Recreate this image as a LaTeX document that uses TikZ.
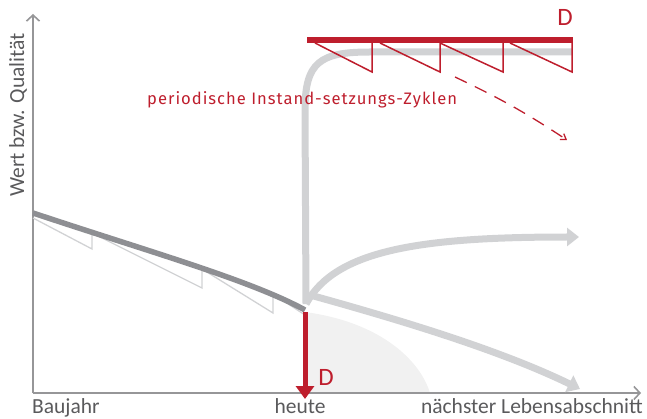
\documentclass[tikz,border=0pt]{standalone}
\usepackage{fontspec}
\setmainfont{Carlito}
\newfontfamily\cyclefont[LetterSpace=6]{Fira Sans}
\usetikzlibrary{arrows.meta}

\definecolor{dbred}{RGB}{190,30,45}
\definecolor{axisgray}{RGB}{150,150,152}
\definecolor{labelgray}{RGB}{90,90,92}
\definecolor{wornline}{RGB}{142,143,147}
\definecolor{pathgray}{RGB}{209,210,212}
\definecolor{shadegray}{RGB}{241,241,241}

\begin{document}
\begin{tikzpicture}[x=1pt, y=-1pt,
  axis/.style={draw=axisgray, line width=1.6pt, -{Straight Barb[length=6pt, width=13pt, line width=1.6pt]}},
  axislabel/.style={text=labelgray, font=\fontsize{21.5}{21.5}\selectfont, inner sep=0pt},
  worn/.style={draw=wornline, line width=5.5pt},
  teeth/.style={draw=pathgray, line width=1.3pt, line join=miter},
  future/.style={draw=pathgray, line width=7pt, -{Triangle[length=12pt, width=18pt]}},
  redteeth/.style={draw=dbred, line width=1.5pt, line join=miter},
  dmark/.style={text=dbred, font=\fontsize{25}{25}\selectfont, inner sep=0pt},
]
\useasboundingbox (0,0) rectangle (647,419);
% ---- shaded area under today ----
\fill[shadegray] (305,312) .. controls (380,322) and (420,360) .. (430,393) -- (305,393) -- cycle;
% ---- axes ----
\coordinate (origin) at (33,393);
\coordinate (ytip) at (33,14);
\coordinate (xtip) at (641,393);
\draw[axis] (origin) -- (ytip);
\draw[axis] (origin) -- (xtip);
\node[axislabel, rotate=90] (ylab) at (18,115) {Wert bzw. Qualität};
\node[axislabel, anchor=base west] (baujahr) at (32,413.5) {Baujahr};
\node[axislabel, anchor=base] (heute) at (300,413.5) {heute};
\node[axislabel, anchor=base east] (next) at (643,413.5) {nächster Lebensabschnitt};
% ---- past: wear and small repairs ----
\coordinate (built) at (33,213);
\coordinate (now) at (305,310);
\draw[teeth] (33,218) -- (92,249) -- (92,233) -- (202,288) -- (202,269)
  -- (273,313) -- (273,294) -- (305,315);
\draw[worn] (built) .. controls (150,252) and (250,280) .. (now);
% ---- future paths ----
\coordinate (fork) at (306,304);
\draw[pathgray, line width=7pt] (fork) -- (305,110) .. controls (305,62) and (320,52) .. (370,52) -- (572,52);
\draw[future] (fork) .. controls (335,250) and (420,237) .. (579,237);
\draw[future] (310,295) .. controls (400,320) and (500,350) .. (580,389);
% ---- loss of value D ----
\draw[dbred, line width=5pt, -{Triangle[length=13pt, width=18pt]}] (305,312) -- (305,399);
\node[dmark] (dlow) at (326,377) {D};
% ---- periodic maintenance cycles ----
\draw[dbred, line width=6.5pt] (307,40) -- (573,40);
\draw[redteeth] (315,43) -- (372,72) -- (372,43);
\draw[redteeth] (380,43) -- (440,72) -- (440,43) -- (503,72) -- (503,43);
\draw[redteeth] (510,43) -- (572,72) -- (572,43);
\draw[dbred, line width=1.3pt, dash pattern=on 13pt off 9pt, -{Straight Barb[length=5pt, width=7pt]}]
  (455,77) to[bend left=4] (567,140);
\node[dmark] (dtop) at (565,17) {D};
\node[text=dbred, font=\cyclefont\fontsize{16.6}{16.6}\selectfont, anchor=west, inner sep=0pt] (cycles)
  at (147,100) {periodische Instand-setzungs-Zyklen};
\end{tikzpicture}
\end{document}
